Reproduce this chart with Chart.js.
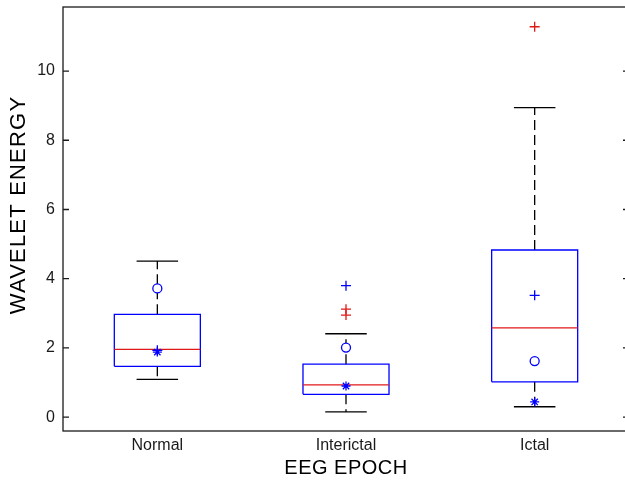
<!DOCTYPE html>
<html>
<head>
<meta charset="utf-8">
<script src="https://cdn.jsdelivr.net/npm/chart.js@4.4.1/dist/chart.umd.min.js"></script>
<style>
html, body { margin: 0; padding: 0; background: #fff; overflow: hidden; }
#wrap { position: absolute; left: 0; top: 0; width: 640px; height: 488px; }
</style>
</head>
<body>
<div id="wrap"><canvas id="boxChart"></canvas></div>
<script>
var categories = ['Normal', 'Interictal', 'Ictal'];
var lowerWhisker = [1.09, 0.15, 0.30];
var q1 = [1.47, 0.66, 1.02];
var medians = [1.96, 0.93, 2.58];
var q3 = [2.97, 1.53, 4.83];
var upperWhisker = [4.51, 2.41, 8.94];
var outliers = [[], [3.12, 2.95], [11.28]];
var plusMarks = [1.93, 3.80, 3.52];
var circleMarks = [3.72, 2.01, 1.62];
var starMarks = [1.88, 0.90, 0.44];
var yTicks = [0, 2, 4, 6, 8, 10];
var xTitle = 'EEG EPOCH';
var yTitle = 'WAVELET ENERGY';

var boxHalf = 0.228;
var capHalf = 0.11;
var blue = '#0000ff';
var red = '#e01818';
var fontFamily = '"Liberation Sans", Arial, sans-serif';

var datasets = [];
for (let i = 0; i < categories.length; i++) {
  let x = i + 1;
  // box
  datasets.push({
    data: [
      {x: x - boxHalf, y: q1[i]}, {x: x + boxHalf, y: q1[i]},
      {x: x + boxHalf, y: q3[i]}, {x: x - boxHalf, y: q3[i]},
      {x: x - boxHalf, y: q1[i]}
    ],
    showLine: true, borderColor: blue, borderWidth: 1.3, pointRadius: 0, order: 3
  });
  // whiskers (dashed)
  datasets.push({
    data: [{x: x, y: q3[i]}, {x: x, y: upperWhisker[i]}],
    showLine: true, borderColor: '#000', borderWidth: 1.3, borderDash: [10, 5], pointRadius: 0, order: 4
  });
  datasets.push({
    data: [{x: x, y: q1[i]}, {x: x, y: lowerWhisker[i]}],
    showLine: true, borderColor: '#000', borderWidth: 1.3, borderDash: [10, 5], pointRadius: 0, order: 4
  });
  // caps
  datasets.push({
    data: [{x: x - capHalf, y: upperWhisker[i]}, {x: x + capHalf, y: upperWhisker[i]}],
    showLine: true, borderColor: '#000', borderWidth: 1.3, pointRadius: 0, order: 4
  });
  datasets.push({
    data: [{x: x - capHalf, y: lowerWhisker[i]}, {x: x + capHalf, y: lowerWhisker[i]}],
    showLine: true, borderColor: '#000', borderWidth: 1.3, pointRadius: 0, order: 4
  });
  // median
  datasets.push({
    data: [{x: x - boxHalf, y: medians[i]}, {x: x + boxHalf, y: medians[i]}],
    showLine: true, borderColor: red, borderWidth: 1.3, pointRadius: 0, order: 2
  });
}

// outliers
datasets.push({
  data: outliers.flatMap((arr, i) => arr.map(v => ({x: i + 1, y: v}))),
  pointStyle: 'cross', pointRadius: 5, borderColor: red, borderWidth: 1.3, order: 1
});
// blue markers
datasets.push({
  data: circleMarks.map((v, i) => ({x: i + 1, y: v})),
  pointStyle: 'circle', pointRadius: 4.5, borderColor: blue, backgroundColor: '#fff', borderWidth: 1.3, order: 0
});
datasets.push({
  data: plusMarks.map((v, i) => ({x: i + 1, y: v})),
  pointStyle: 'cross', pointRadius: 5, borderColor: blue, borderWidth: 1.3, order: 0
});
datasets.push({
  data: starMarks.map((v, i) => ({x: i + 1, y: v})),
  pointStyle: 'star', pointRadius: 4.5, borderColor: blue, borderWidth: 1.3, order: 0
});

// axes box with inward ticks, plus the axis titles (MATLAB look)
var framePlugin = {
  id: 'frame',
  afterDraw(chart) {
    const {ctx, chartArea: a, scales} = chart;
    ctx.save();
    ctx.strokeStyle = '#1a1a1a';
    ctx.lineWidth = 1.3;
    ctx.strokeRect(a.left, a.top, a.right - a.left, a.bottom - a.top);
    yTicks.forEach(v => {
      const y = scales.y.getPixelForValue(v);
      ctx.beginPath();
      ctx.moveTo(a.left, y); ctx.lineTo(a.left + 6, y);
      ctx.moveTo(a.right, y); ctx.lineTo(a.right - 6, y);
      ctx.stroke();
    });

    ctx.fillStyle = '#000';
    ctx.textAlign = 'center';
    ctx.textBaseline = 'middle';
    ctx.font = '20px ' + fontFamily;
    ctx.letterSpacing = '0.5px';
    ctx.fillText(xTitle, 346, 468);

    ctx.font = '22px ' + fontFamily;
    ctx.letterSpacing = '1.2px';
    ctx.translate(19, 205);
    ctx.rotate(-Math.PI / 2);
    ctx.fillText(yTitle, 0, 0);
    ctx.restore();
  }
};

new Chart(document.getElementById('boxChart'), {
  type: 'scatter',
  data: { datasets: datasets },
  options: {
    responsive: true,
    maintainAspectRatio: false,
    animation: false,
    layout: { padding: { left: 0, top: 7, right: 11, bottom: 0 } },
    plugins: { legend: { display: false }, tooltip: { enabled: false } },
    scales: {
      x: {
        type: 'linear', min: 0.5, max: 3.5,
        afterBuildTicks: s => { s.ticks = categories.map((c, i) => ({value: i + 1})); },
        afterFit: s => { s.height = 57; s.paddingLeft = 0; s.paddingRight = 0; },
        grid: { display: false, drawTicks: false },
        border: { display: false },
        ticks: {
          padding: 5, color: '#1a1a1a', maxRotation: 0,
          font: { family: fontFamily, size: 16 },
          callback: v => categories[v - 1]
        }
      },
      y: {
        min: -0.4, max: 11.85,
        afterBuildTicks: s => { s.ticks = yTicks.map(v => ({value: v})); },
        afterFit: s => { s.width = 63; s.paddingTop = 0; s.paddingBottom = 0; },
        grid: { display: false, drawTicks: false },
        border: { display: false },
        ticks: { padding: 8, color: '#1a1a1a', font: { family: fontFamily, size: 16 } }
      }
    }
  },
  plugins: [framePlugin]
});
</script>
</body>
</html>
